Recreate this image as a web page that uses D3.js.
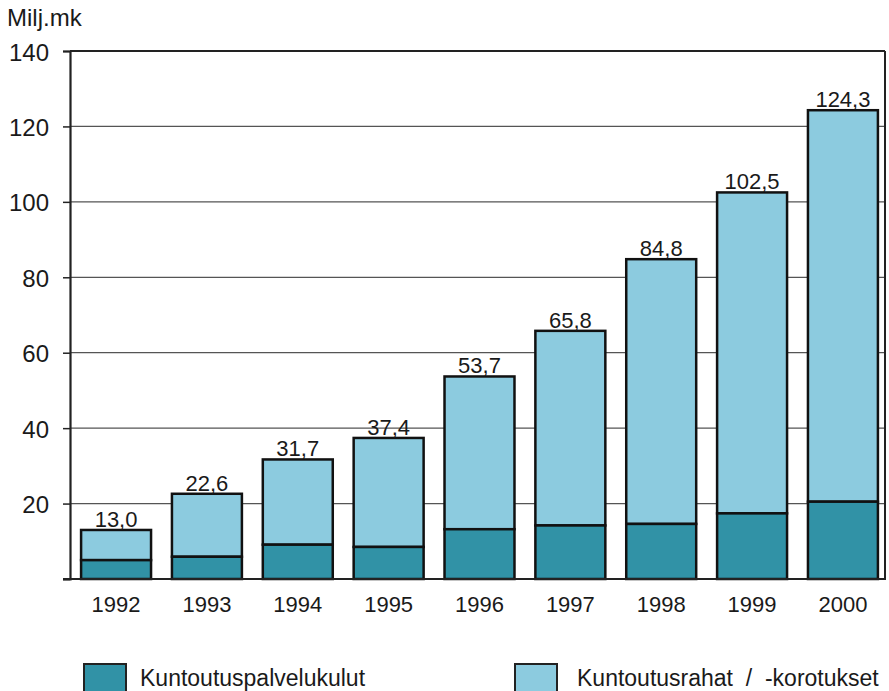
<!DOCTYPE html>
<html><head><meta charset="utf-8">
<script src="https://cdn.jsdelivr.net/npm/d3@7"></script>
<style>body{margin:0;background:#fff;} text{font-family:"Liberation Sans",Arial,sans-serif;fill:#1a1a1a;}</style>
</head><body>
<svg id="c" width="889" height="691"></svg>
<script>
const years = ["1992","1993","1994","1995","1996","1997","1998","1999","2000"];
const totals = [13.0,22.6,31.7,37.4,53.7,65.8,84.8,102.5,124.3];
const palvelu = [5.0,5.9,9.1,8.5,13.2,14.2,14.6,17.4,20.5];
const totalLabels = ["13,0","22,6","31,7","37,4","53,7","65,8","84,8","102,5","124,3"];
const yTicks = [20,40,60,80,100,120,140];
const seriesNames = ["Kuntoutuspalvelukulut","Kuntoutusrahat\u00a0\u00a0/\u00a0\u00a0-korotukset"];
const colors = ["#3192a6","#8ccbdf"];

const svg = d3.select("#c");
const L = 70, R = 885, T = 51, B = 579;
const x = d3.scaleBand().domain(years).range([72, 887]).paddingInner(0.23).paddingOuter(0.1);
const y = d3.scaleLinear().domain([0,140]).range([B, T]);

svg.append("g").selectAll("line").data(yTicks).join("line")
  .attr("x1", L).attr("x2", R).attr("y1", d=>y(d)).attr("y2", d=>y(d))
  .attr("stroke", d=> d===140 ? "#222" : "#555").attr("stroke-width", d=> d===140 ? 2 : 1.3);

svg.append("line").attr("x1",R).attr("x2",R).attr("y1",T).attr("y2",B).attr("stroke","#222").attr("stroke-width",2);

const yAxis = d3.axisLeft(y).tickValues([0].concat(yTicks)).tickSize(7).tickPadding(14).tickFormat(d=> d===0 ? "" : d);
const ga = svg.append("g").attr("transform",`translate(${L},0)`).call(yAxis);
ga.select(".domain").attr("stroke","#222").attr("stroke-width",2.2);
ga.selectAll(".tick line").attr("stroke","#222").attr("stroke-width",1.5);
ga.selectAll(".tick text").attr("font-size",24).attr("fill","#1a1a1a").attr("dy","0.38em")
  .style("font-family","'Liberation Sans',Arial,sans-serif");

const g = svg.append("g");
years.forEach((yr,i)=>{
  g.append("rect").attr("x",x(yr)).attr("width",x.bandwidth())
    .attr("y",y(totals[i])).attr("height",y(palvelu[i])-y(totals[i]))
    .attr("fill",colors[1]).attr("stroke","#111").attr("stroke-width",2.5);
  g.append("rect").attr("x",x(yr)).attr("width",x.bandwidth())
    .attr("y",y(palvelu[i])).attr("height",y(0)-y(palvelu[i]))
    .attr("fill",colors[0]).attr("stroke","#111").attr("stroke-width",2.5);
  g.append("text").attr("x",x(yr)+x.bandwidth()/2).attr("y",y(totals[i])-3)
    .attr("text-anchor","middle").attr("font-size",22).text(totalLabels[i]);
  g.append("text").attr("x",x(yr)+x.bandwidth()/2).attr("y",612)
    .attr("text-anchor","middle").attr("font-size",22).text(yr);
});

svg.append("line").attr("x1",63).attr("x2",R+1).attr("y1",B).attr("y2",B).attr("stroke","#222").attr("stroke-width",2.2);

svg.append("text").attr("x",7).attr("y",26).attr("font-size",24).text("Milj.mk");

const leg = [{x:84, tx:140},{x:515, tx:577}];
seriesNames.forEach((n,i)=>{
  svg.append("rect").attr("x",leg[i].x).attr("y",664).attr("width",42).attr("height",30)
    .attr("fill",colors[i]).attr("stroke","#222").attr("stroke-width",2);
  svg.append("text").attr("x",leg[i].tx).attr("y",686).attr("font-size",23).text(n);
});
</script>
</body></html>
